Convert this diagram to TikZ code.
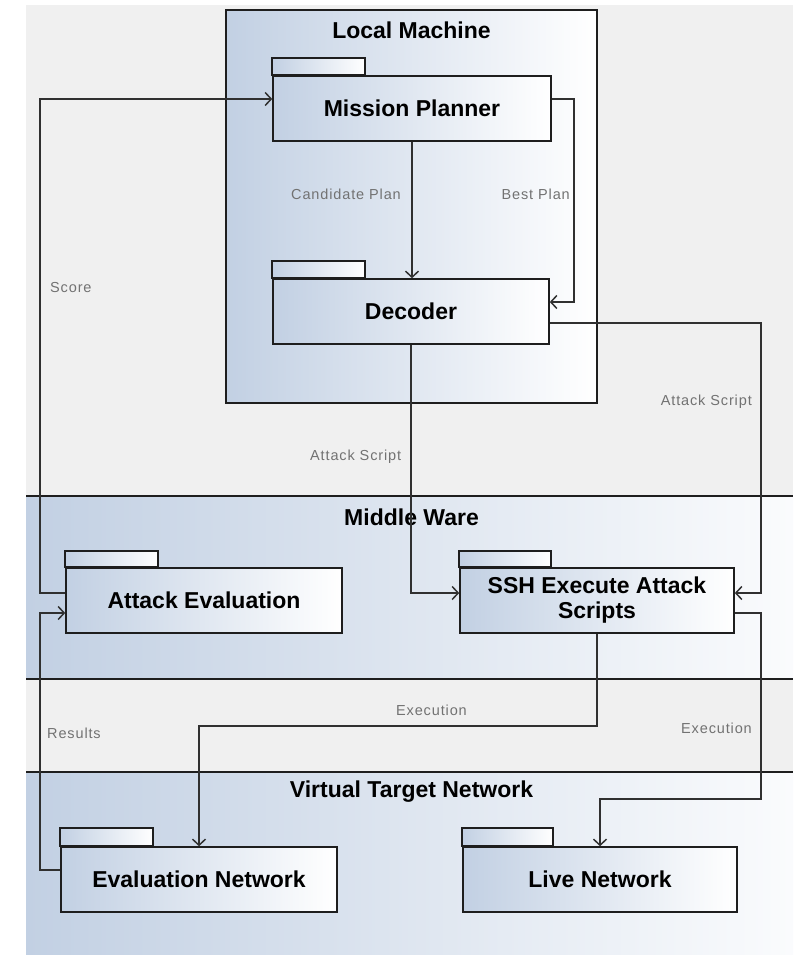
\documentclass[tikz,border=0pt]{standalone}
\usepackage{fontspec}
\setmainfont{Liberation Sans}
\usetikzlibrary{arrows.meta}
\definecolor{bgcol}{HTML}{F0F0F0}
\definecolor{pkgblue}{HTML}{C2D0E3}
\definecolor{edgecol}{HTML}{1E1E1E}
\definecolor{conncol}{HTML}{303030}
\definecolor{lblcol}{HTML}{727272}
\begin{document}
\begin{tikzpicture}[x=1pt,y=-1pt,
  pkg/.style={draw=edgecol, line width=1.6pt, left color=pkgblue, right color=white,
    minimum height=65pt, inner sep=0pt, align=center,
    font=\fontsize{23}{25}\selectfont\bfseries},
  tabbox/.style={draw=edgecol, line width=1.6pt, left color=pkgblue, right color=white},
  band/.style={left color=pkgblue, right color=white!92!pkgblue},
  bandline/.style={draw=edgecol, line width=1.4pt},
  title/.style={font=\fontsize{23}{25}\selectfont\bfseries, inner sep=0pt},
  conn/.style={draw=conncol, line width=1.5pt},
  arr/.style={conn, -{Straight Barb[length=6pt,width=13pt]}},
  lbl/.style={text=lblcol, font=\fontsize{14.5}{16}\selectfont\addfontfeature{LetterSpace=6}, inner sep=0pt}
]
\useasboundingbox (0,0) rectangle (805,955);
% background
\fill[bgcol] (26,5) rectangle (793,955);
% bands
\fill[band] (26,496) rectangle (793,679);
\fill[band] (26,772) rectangle (793,955);
\draw[bandline] (26,496) -- (793,496);
\draw[bandline] (26,679) -- (793,679);
\draw[bandline] (26,772) -- (793,772);
% local machine container
\draw[draw=edgecol, line width=1.8pt, left color=pkgblue, right color=white] (226,10) rectangle (597,403);
\node[title] (tlm) at (411.5,30) {Local Machine};
\node[title] (tmw) at (411.5,517) {Middle Ware};
\node[title] (tvt) at (411.5,792) {Virtual Target Network};

% packages
\node[pkg, minimum width=278pt] (mp) at (412,108.5) {Mission Planner};
\draw[tabbox] (mp.north west) rectangle ++(93,-17);
\node[pkg, minimum width=276pt] (dec) at (411,311.5) {Decoder};
\draw[tabbox] (dec.north west) rectangle ++(93,-17);
\node[pkg, minimum width=276pt] (ae) at (204,600.5) {Attack Evaluation};
\draw[tabbox] (ae.north west) rectangle ++(93,-16);
\node[pkg, minimum width=274pt] (ssh) at (597,600.5) {SSH Execute Attack\\Scripts};
\draw[tabbox] (ssh.north west) rectangle ++(92,-16);
\node[pkg, minimum width=276pt] (en) at (199,879.5) {Evaluation Network};
\draw[tabbox] (en.north west) rectangle ++(93,-18);
\node[pkg, minimum width=274pt] (ln) at (600,879.5) {Live Network};
\draw[tabbox] (ln.north west) rectangle ++(91,-18);

% connectors
\draw[arr] (ae.west |- 0,593) -- (40,593) -- (40,99) -- (mp.west |- 0,99);
\draw[arr] (mp.south) -- (mp.south |- dec.north);
\draw[arr] (mp.east |- 0,99) -- (574,99) -- (574,302) -- (dec.east |- 0,302);
\draw[arr] (dec.south) -- (dec.south |- 0,593) -- (ssh.west |- 0,593);
\draw[arr] (dec.east |- 0,323) -- (761,323) -- (761,593) -- (ssh.east |- 0,593);
\draw[arr] (ssh.south) -- (ssh.south |- 0,726) -- (en.north |- 0,726) -- (en.north);
\draw[arr] (ssh.east |- 0,613) -- (761,613) -- (761,799) -- (ln.north |- 0,799) -- (ln.north);
\draw[arr] (en.west |- 0,870) -- (40,870) -- (40,613) -- (ae.west |- 0,613);

% labels
\node[lbl, anchor=east] (lcand) at (401,194) {Candidate Plan};
\node[lbl, anchor=east] (lbest) at (570,194) {Best Plan};
\node[lbl, anchor=west] (lscore) at (50,288) {Score};
\node[lbl, anchor=west] (latt1) at (310,457) {Attack Script};
\node[lbl, anchor=east] (latt2) at (752,402) {Attack Script};
\node[lbl, anchor=west] (lres) at (47,733) {Results};
\node[lbl, anchor=east] (lex1) at (467,710) {Execution};
\node[lbl, anchor=east] (lex2) at (752,728) {Execution};
\end{tikzpicture}
\end{document}
